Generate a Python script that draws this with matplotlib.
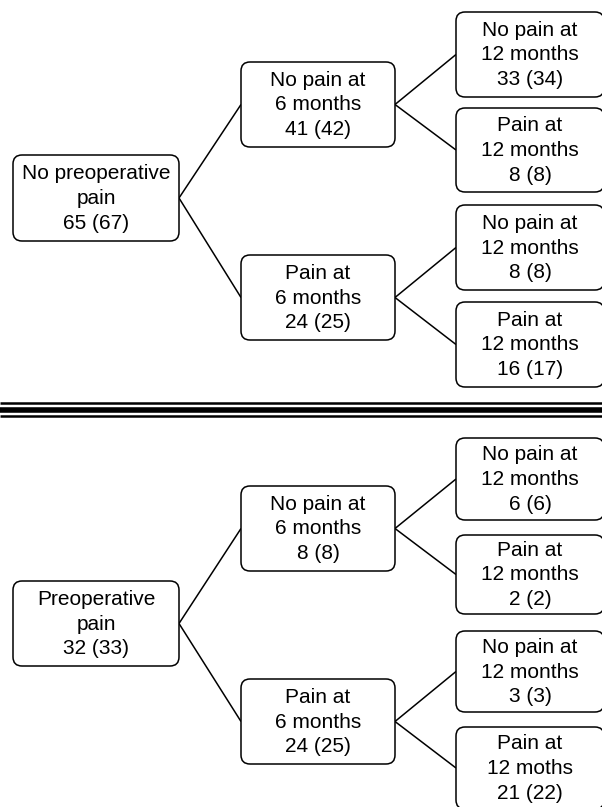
import matplotlib
matplotlib.use("Agg")
import matplotlib.pyplot as plt
from matplotlib.patches import FancyBboxPatch

# ---- data ----
root_labels = ["No preoperative\npain", "Preoperative\npain"]
root_n = [65, 32]
root_pct = [67, 33]

six_labels = ["No pain at\n6 months", "Pain at\n6 months"]
six_n = [[41, 24], [8, 24]]
six_pct = [[42, 25], [8, 25]]

twelve_labels = [
    ["No pain at\n12 months", "Pain at\n12 months", "No pain at\n12 months", "Pain at\n12 months"],
    ["No pain at\n12 months", "Pain at\n12 months", "No pain at\n12 months", "Pain at\n12 moths"],
]
twelve_n = [[33, 8, 8, 16], [6, 2, 3, 21]]
twelve_pct = [[34, 8, 8, 17], [6, 2, 3, 22]]

# ---- layout (pixels) ----
W, H = 602, 807
root_x = (13, 179)
mid_x = (241, 395)
right_x = (456, 604)
root_y = [(155, 241), (581, 666)]
mid_y = [[(62, 147), (255, 340)], [(486, 571), (679, 764)]]
right_y = [[(12, 97), (108, 192), (205, 290), (302, 387)],
           [(438, 520), (535, 614), (631, 712), (727, 809)]]

fig = plt.figure(figsize=(W / 100, H / 100), dpi=100)
ax = fig.add_axes([0, 0, 1, 1])
ax.set_xlim(0, W)
ax.set_ylim(H, 0)
ax.axis("off")

FONT = "Liberation Sans"
LW = 1.1


def box(x0, x1, y0, y1, text):
    p = FancyBboxPatch((x0, y0), x1 - x0, y1 - y0,
                       boxstyle="round,pad=0,rounding_size=9",
                       fc="white", ec="black", lw=LW, zorder=3)
    ax.add_patch(p)
    ax.text((x0 + x1) / 2, (y0 + y1) / 2 + 0.5, text, ha="center", va="center",
            fontsize=15, family=FONT, linespacing=1.38, zorder=4)


def connect(xa, ya, xb, yb):
    ax.plot([xa, xb], [ya, yb], color="black", lw=LW, zorder=2,
            solid_capstyle="butt")


for g in range(2):
    ry0, ry1 = root_y[g]
    box(root_x[0], root_x[1], ry0, ry1,
        f"{root_labels[g]}\n{root_n[g]} ({root_pct[g]})")
    rc = (ry0 + ry1) / 2
    for m in range(2):
        my0, my1 = mid_y[g][m]
        mc = (my0 + my1) / 2
        connect(root_x[1], rc, mid_x[0], mc)
        box(mid_x[0], mid_x[1], my0, my1,
            f"{six_labels[m]}\n{six_n[g][m]} ({six_pct[g][m]})")
        for k in range(2):
            i = 2 * m + k
            ty0, ty1 = right_y[g][i]
            tc = (ty0 + ty1) / 2
            connect(mid_x[1], mc, right_x[0], tc)
            box(right_x[0], right_x[1], ty0, ty1,
                f"{twelve_labels[g][i]}\n{twelve_n[g][i]} ({twelve_pct[g][i]})")

# separator lines
ax.plot([0, W], [403, 403], color="black", lw=1.8, solid_capstyle="butt")
ax.plot([0, W], [409.5, 409.5], color="black", lw=4.0, solid_capstyle="butt")
ax.plot([0, W], [415.5, 415.5], color="black", lw=1.8, solid_capstyle="butt")

fig.savefig("out.png", dpi=100)
